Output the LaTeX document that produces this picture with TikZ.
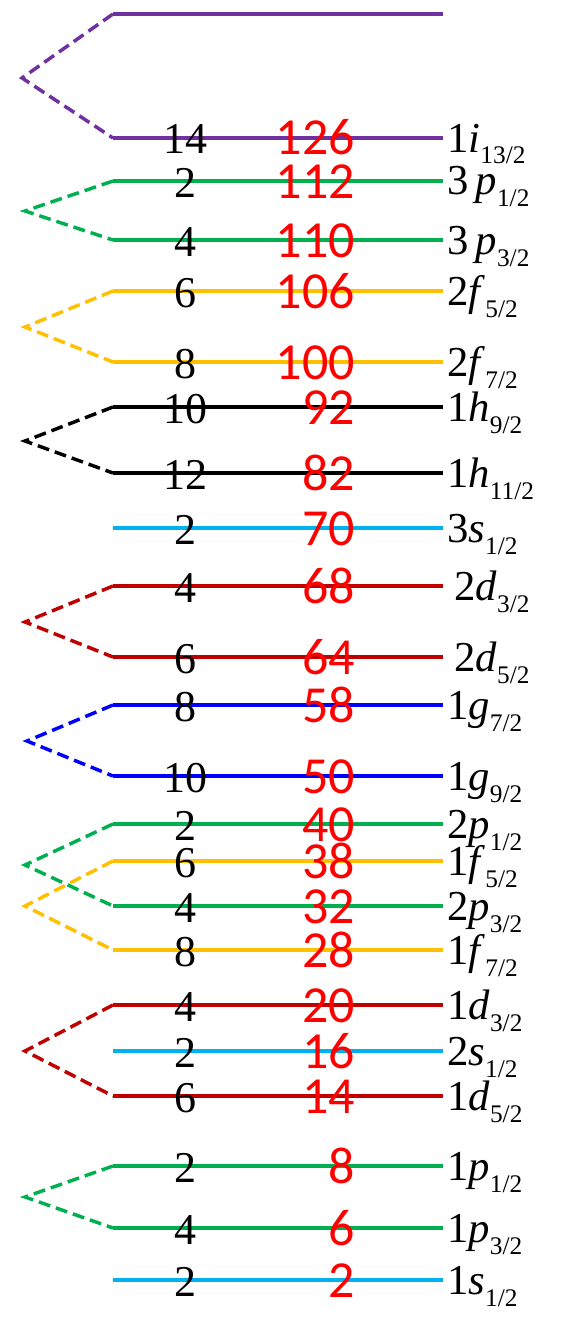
\documentclass[tikz,border=0pt]{standalone}
\usepackage{fontspec}
\setmainfont{Liberation Serif}
\newfontfamily\calib{Carlito}
\definecolor{cPur}{HTML}{7030A0}
\definecolor{cGrn}{HTML}{00B050}
\definecolor{cYel}{HTML}{FFC000}
\definecolor{cCya}{HTML}{00B0F0}
\definecolor{cDrd}{HTML}{C00000}
\definecolor{cBlu}{HTML}{0000FF}
\definecolor{cRed}{HTML}{FF0000}
\newcommand\orb[3]{#1\textit{#2}\raisebox{-9pt}{\fontsize{19}{19}\selectfont #3}}
% name, y, colour, black number, red number, label
\newcommand\lvl[6]{%
  \coordinate (#1L) at (113,#2);
  \coordinate (#1R) at (443,#2);
  \draw[lev,#3] (#1L) -- (#1R);
  \node[blk] (#1b) at (185,{#2+16}) {#4};
  \node[rd] (#1r) at (355,{#2+17}) {#5};
  \node[lab] (#1t) at (447,{#2+14}) {#6};
}
\begin{document}
\begin{tikzpicture}[x=0.75pt,y=-0.75pt,
  lev/.style={line width=2.8pt},
  split/.style={line width=2.6pt, dash pattern=on 9pt off 4.5pt},
  blk/.style={anchor=base, inner sep=0pt, font=\fontsize{33}{33}\selectfont},
  rd/.style={anchor=base east, inner sep=0pt, text=cRed, font=\calib\fontsize{39}{39}\selectfont},
  lab/.style={anchor=base west, inner sep=0pt, font=\fontsize{32}{32}\selectfont}]
\useasboundingbox (0,0) rectangle (564,1334);
% top purple level (no labels)
\coordinate (topL) at (113,14);
\coordinate (topR) at (443,14);
\draw[lev,cPur] (topL) -- (topR);
\lvl{i13}{138}{cPur}{14}{126}{\orb{1}{i}{13/2}}
\lvl{p3a}{181}{cGrn}{2}{112}{\orb{3\,}{p}{1/2}}
\lvl{p3b}{240}{cGrn}{4}{110}{\orb{3\,}{p}{3/2}}
\lvl{f2a}{291}{cYel}{6}{106}{\orb{2}{f}{5/2}}
\lvl{f2b}{362}{cYel}{8}{100}{\orb{2}{f}{7/2}}
\lvl{h9}{407}{black}{10}{92}{\orb{1}{h}{9/2}}
\lvl{h11}{473}{black}{12}{82}{\orb{1}{h}{11/2}}
\lvl{s3}{528}{cCya}{2}{70}{\orb{3}{s}{1/2}}
\lvl{d2a}{586}{cDrd}{4}{68}{\orb{\,2}{d}{3/2}}
\lvl{d2b}{657}{cDrd}{6}{64}{\orb{\,2}{d}{5/2}}
\lvl{g7}{705}{cBlu}{8}{58}{\orb{1}{g}{7/2}}
\lvl{g9}{776}{cBlu}{10}{50}{\orb{1}{g}{9/2}}
\lvl{p2a}{824}{cGrn}{2}{40}{\orb{2}{p}{1/2}}
\lvl{f1a}{861}{cYel}{6}{38}{\orb{1}{f}{5/2}}
\lvl{p2b}{906}{cGrn}{4}{32}{\orb{2}{p}{3/2}}
\lvl{f1b}{950}{cYel}{8}{28}{\orb{1}{f}{7/2}}
\lvl{d1a}{1005}{cDrd}{4}{20}{\orb{1}{d}{3/2}}
\lvl{s2}{1051}{cCya}{2}{16}{\orb{2}{s}{1/2}}
\lvl{d1b}{1096}{cDrd}{6}{14}{\orb{1}{d}{5/2}}
\lvl{p1a}{1166}{cGrn}{2}{8}{\orb{1}{p}{1/2}}
\lvl{p1b}{1228}{cGrn}{4}{6}{\orb{1}{p}{3/2}}
\lvl{s1}{1280}{cCya}{2}{2}{\orb{1}{s}{1/2}}
% split apexes
\coordinate (ai) at (22,78);
\coordinate (ap3) at (25,211);
\coordinate (af2) at (25,327);
\coordinate (ah) at (25,441);
\coordinate (ad2) at (25,622);
\coordinate (ag) at (27,741);
\coordinate (ap2) at (25,865);
\coordinate (af1) at (25,906);
\coordinate (ad1) at (25,1051);
\coordinate (ap1) at (25,1197);
\draw[split,cPur] (topL) -- (ai) -- (i13L);
\draw[split,cGrn] (p3aL) -- (ap3) -- (p3bL);
\draw[split,cYel] (f2aL) -- (af2) -- (f2bL);
\draw[split,black] (h9L) -- (ah) -- (h11L);
\draw[split,cDrd] (d2aL) -- (ad2) -- (d2bL);
\draw[split,cBlu] (g7L) -- (ag) -- (g9L);
\draw[split,cGrn] (p2aL) -- (ap2) -- (p2bL);
\draw[split,cYel] (f1aL) -- (af1) -- (f1bL);
\draw[split,cDrd] (d1aL) -- (ad1) -- (d1bL);
\draw[split,cGrn] (p1aL) -- (ap1) -- (p1bL);
\end{tikzpicture}
\end{document}
